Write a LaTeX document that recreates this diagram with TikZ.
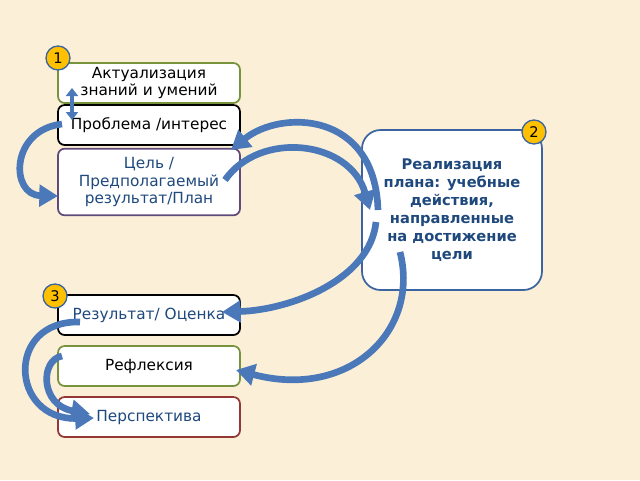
\documentclass[tikz,border=0pt]{standalone}
\usepackage{fontspec}
\setmainfont{DejaVu Sans}
\usetikzlibrary{arrows.meta}
\definecolor{bg}{HTML}{FBEFD7}
\definecolor{olive}{HTML}{77933C}
\definecolor{purp}{HTML}{604A7B}
\definecolor{dred}{HTML}{953735}
\definecolor{bl}{HTML}{3B64A0}
\definecolor{tb}{HTML}{1F497D}
\definecolor{arr}{HTML}{4A78B8}
\definecolor{yel}{HTML}{FFC000}
\begin{document}
\begin{tikzpicture}[x=0.75pt,y=-0.75pt,
 box/.style={draw,line width=1.3pt,rounded corners=5pt,fill=white,minimum width=136.5pt,minimum height=30pt,align=center,inner sep=1pt,font=\fontsize{11.5}{13}\selectfont},
 num/.style={circle,draw=bl,line width=1pt,fill=yel,minimum size=18pt,inner sep=0pt,font=\fontsize{11}{12}\selectfont},
 ba/.style={draw=arr,line width=5pt,-{Triangle[width=16pt,length=14pt]}},
 bb/.style={draw=arr,line width=3.5pt,{Triangle[width=9pt,length=6pt]}-{Triangle[width=9pt,length=6pt]}}]
\useasboundingbox (0,0) rectangle (640,480);
\fill[bg] (0,0) rectangle (640,480);
\node[box,draw=olive] (b1) at (149,83) {Актуализация\\знаний и умений};
\node[box,draw=black] (b2) at (149,125) {Проблема /интерес};
\node[box,draw=purp,text=tb,minimum height=50pt] (b3) at (149,182) {Цель /\\Предполагаемый\\результат/План};
\node[box,draw=bl,text=tb,minimum width=135pt,minimum height=120pt,rounded corners=14pt,font=\bfseries\fontsize{11}{13.5}\selectfont] (b4) at (452,210) {Реализация\\плана: учебные\\действия,\\направленные\\на достижение\\цели};
\node[box,draw=black,text=tb] (b5) at (149,315) {Результат/ Оценка};
\node[box,draw=olive] (b6) at (149,366) {Рефлексия};
\node[box,draw=dred,text=tb] (b7) at (149,417) {Перспектива};
\node[num] (n1) at (58,58) {1};
\node[num] (n2) at (534,132) {2};
\node[num] (n3) at (55,296) {3};
\coordinate (a1) at (72,88); \coordinate (a2) at (72,120);
\draw[bb] (a1) -- (a2);
\coordinate (c1) at (62,124); \coordinate (c2) at (58,196);
\draw[ba] (c1) .. controls (10,130) and (10,195) .. (c2);
\coordinate (d1) at (378,210); \coordinate (d2) at (231,150);
\draw[ba] (d1) .. controls (375,110) and (280,110) .. (d2);
\coordinate (e1) at (225,180); \coordinate (e2) at (370,210);
\draw[ba] (e1) .. controls (260,130) and (350,140) .. (e2);
\coordinate (f1) at (376,222); \coordinate (f2) at (222,312);
\draw[ba] (f1) .. controls (370,280) and (290,310) .. (f2);
\coordinate (g1) at (400,252); \coordinate (g2) at (236,370);
\draw[ba] (g1) .. controls (420,330) and (350,400) .. (g2);
\coordinate (h1) at (80,322); \coordinate (h2) at (94,418);
\draw[ba] (h1) .. controls (5,320) and (10,420) .. (h2);
\coordinate (i1) at (62,356); \coordinate (i2) at (90,414);
\draw[ba] (i1) .. controls (40,360) and (40,405) .. (i2);
\end{tikzpicture}
\end{document}
